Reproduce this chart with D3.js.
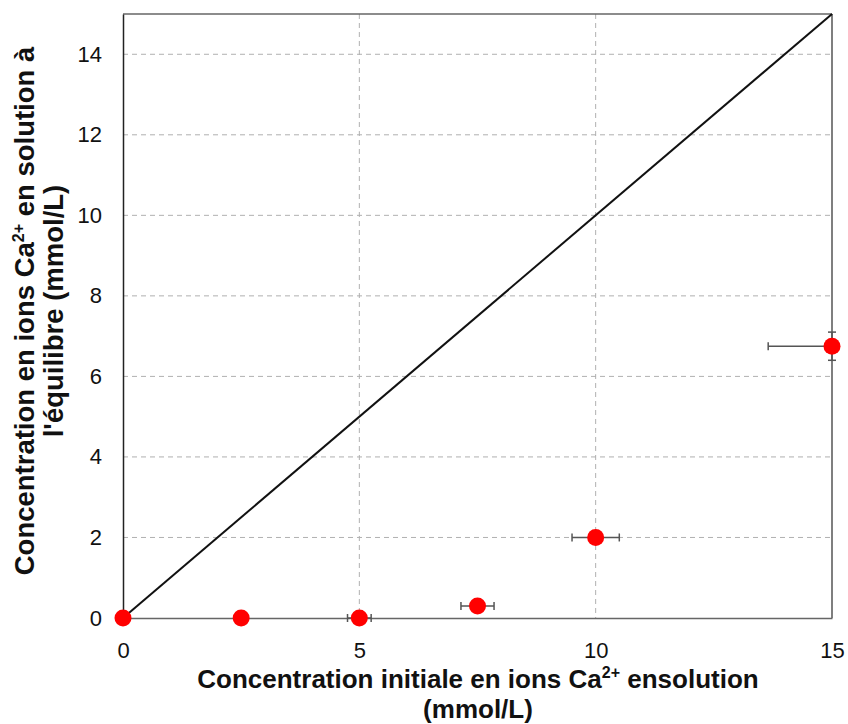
<!DOCTYPE html>
<html>
<head>
<meta charset="utf-8">
<script src="https://cdn.jsdelivr.net/npm/d3@7"></script>
<style>
  body { margin: 0; background: #fff; }
  svg { display: block; font-family: "Liberation Sans", Arial, sans-serif; }
</style>
</head>
<body>
<svg id="chart" width="848" height="724"></svg>
<script>
// data
const initialConc = [0, 2.5, 5, 7.5, 10, 15];
const equilibriumConc = [0, 0, 0, 0.3, 2.0, 6.75];
const xErrLow = [0, 0, 0.25, 0.35, 0.5, 1.35];
const xErrHigh = [0, 0, 0.25, 0.35, 0.5, 0];
const yErr = [0, 0, 0, 0, 0, 0.35];
const xTicks = [0, 5, 10, 15];
const yTicks = [0, 2, 4, 6, 8, 10, 12, 14];
const refLine = [0, 15];

const svg = d3.select('#chart');
const plotLeft = 123, plotRight = 832, plotTop = 14, plotBottom = 618;

const x = d3.scaleLinear().domain([0, 15]).range([plotLeft, plotRight]);
const y = d3.scaleLinear().domain([0, 15]).range([plotBottom, plotTop]);

const points = initialConc.map((v, i) => ({
  x: v, y: equilibriumConc[i], xl: xErrLow[i], xh: xErrHigh[i], ye: yErr[i]
}));

// grid
const grid = svg.append('g').attr('stroke', '#b0b0b0').attr('stroke-dasharray', '5,4').attr('stroke-width', 1);
grid.selectAll('.gx').data(xTicks.filter(d => d > 0 && d < 15)).enter().append('line')
  .attr('x1', d => x(d)).attr('x2', d => x(d)).attr('y1', plotTop).attr('y2', plotBottom);
grid.selectAll('.gy').data(yTicks.filter(d => d > 0)).enter().append('line')
  .attr('x1', plotLeft).attr('x2', plotRight).attr('y1', d => y(d)).attr('y2', d => y(d));

// frame
svg.append('line').attr('x1', plotLeft).attr('x2', plotRight).attr('y1', plotTop).attr('y2', plotTop)
  .attr('stroke', '#666').attr('stroke-width', 1.5);
svg.append('line').attr('x1', plotRight).attr('x2', plotRight).attr('y1', plotTop).attr('y2', plotBottom)
  .attr('stroke', '#555').attr('stroke-width', 1.5);

// axes
const xAxis = svg.append('g').attr('transform', `translate(0,${plotBottom})`)
  .call(d3.axisBottom(x).tickValues(xTicks).tickSize(0).tickPadding(24));
const yAxis = svg.append('g').attr('transform', `translate(${plotLeft},0)`)
  .call(d3.axisLeft(y).tickValues(yTicks).tickSize(0).tickPadding(21));
xAxis.select('.domain').attr('stroke', '#666').attr('stroke-width', 1.5);
yAxis.select('.domain').attr('stroke', '#222').attr('stroke-width', 1.5);
[xAxis, yAxis].forEach(a => a.selectAll('text')
  .attr('font-size', 22).attr('fill', '#111')
  .attr('font-family', '"Liberation Sans", Arial, sans-serif'));

// y = x reference line
svg.append('line')
  .attr('x1', x(refLine[0])).attr('y1', y(refLine[0]))
  .attr('x2', x(refLine[1])).attr('y2', y(refLine[1]))
  .attr('stroke', '#111').attr('stroke-width', 2);

// error bars
const eb = svg.append('g').attr('stroke', '#555').attr('stroke-width', 1.5);
points.filter(d => d.xl > 0 || d.xh > 0).forEach(d => {
  eb.append('line').attr('x1', x(d.x - d.xl)).attr('x2', x(d.x + d.xh))
    .attr('y1', y(d.y)).attr('y2', y(d.y));
  eb.append('line').attr('x1', x(d.x - d.xl)).attr('x2', x(d.x - d.xl))
    .attr('y1', y(d.y) - 4).attr('y2', y(d.y) + 4);
  if (d.xh > 0)
    eb.append('line').attr('x1', x(d.x + d.xh)).attr('x2', x(d.x + d.xh))
      .attr('y1', y(d.y) - 4).attr('y2', y(d.y) + 4);
});
points.filter(d => d.ye > 0).forEach(d => {
  eb.append('line').attr('x1', x(d.x)).attr('x2', x(d.x))
    .attr('y1', y(d.y - d.ye)).attr('y2', y(d.y + d.ye));
  [d.y - d.ye, d.y + d.ye].forEach(v =>
    eb.append('line').attr('x1', x(d.x) - 4).attr('x2', x(d.x) + 4)
      .attr('y1', y(v)).attr('y2', y(v)));
});

// points
svg.append('g').selectAll('circle').data(points).enter().append('circle')
  .attr('cx', d => x(d.x)).attr('cy', d => y(d.y)).attr('r', 8.5)
  .attr('fill', '#ff0000');

// axis titles
const xt = svg.append('text').attr('text-anchor', 'middle')
  .attr('font-size', 26).attr('font-weight', 'bold').attr('fill', '#111');
const l1 = xt.append('tspan').attr('x', 478).attr('y', 688);
l1.append('tspan').text('Concentration initiale en ions Ca');
l1.append('tspan').attr('font-size', 16).attr('dy', -10).text('2+');
l1.append('tspan').attr('dy', 10).text(' ensolution');
xt.append('tspan').attr('x', 478).attr('y', 717.5).text('(mmol/L)');

const yt = svg.append('text').attr('text-anchor', 'middle')
  .attr('transform', 'translate(0,311) rotate(-90)')
  .attr('font-size', 27.5).attr('font-weight', 'bold').attr('fill', '#111');
const m1 = yt.append('tspan').attr('x', 0).attr('y', 34);
m1.append('tspan').text('Concentration en ions Ca');
m1.append('tspan').attr('font-size', 16).attr('dy', -10).text('2+');
m1.append('tspan').attr('dy', 10).text(' en solution à');
yt.append('tspan').attr('x', 0).attr('y', 63).text("l'équilibre (mmol/L)");
</script>
</body>
</html>
